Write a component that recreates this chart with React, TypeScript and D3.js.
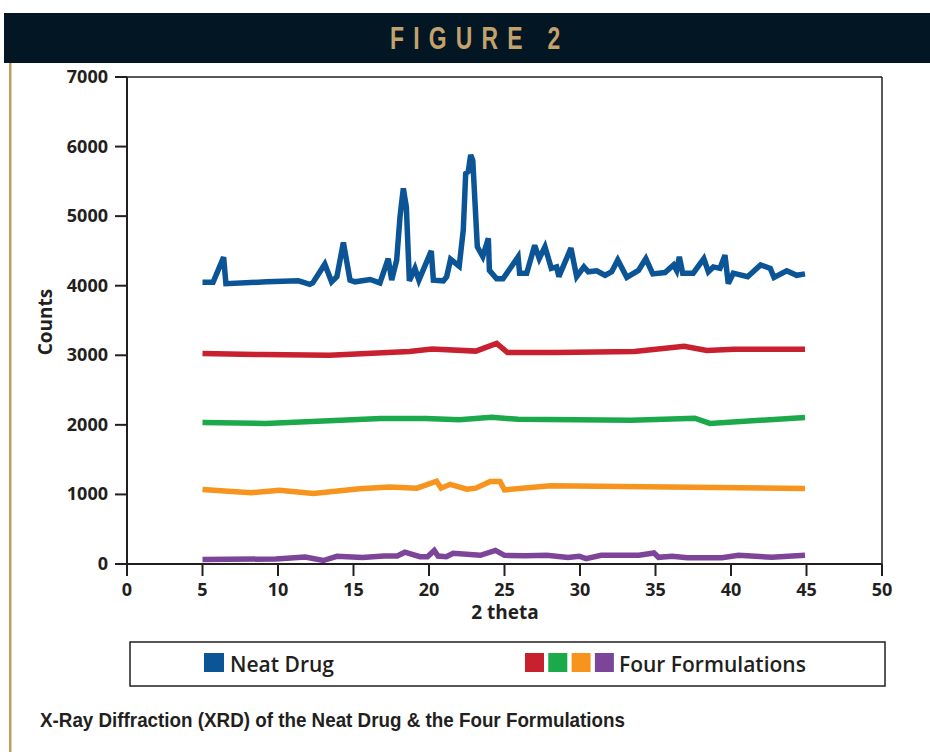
import React from "react";
import * as d3 from "d3";

const xTicks = [0, 5, 10, 15, 20, 25, 30, 35, 40, 45, 50];
const yTicks = [0, 1000, 2000, 3000, 4000, 5000, 6000, 7000];

const neatDrugX = [5, 5.7, 6.4, 6.55, 9.25, 11.35, 11.8, 12.1, 12.3, 13.1, 13.55, 13.9, 14.33, 14.77, 15.1, 16.1, 16.75, 17.3, 17.53, 17.86, 18.08, 18.3, 18.5, 18.7, 19.07, 19.33, 20.15, 20.29, 20.95, 21.17, 21.43, 22.0, 22.27, 22.43, 22.6, 22.76, 22.9, 23.2, 23.56, 23.93, 24.0, 24.48, 24.9, 25.9, 26.0, 26.47, 27.0, 27.3, 27.68, 28.1, 28.45, 28.6, 29.4, 29.78, 30.26, 30.55, 31.1, 31.66, 32.1, 32.5, 33.1, 33.87, 34.36, 34.82, 35.63, 36.2, 36.4, 36.58, 36.8, 37.5, 38.2, 38.5, 38.83, 39.27, 39.6, 39.82, 40.15, 41.1, 41.96, 42.6, 42.85, 43.69, 44.35, 44.9];
const neatDrugY = [4050, 4050, 4410, 4030, 4056, 4070, 4040, 4020, 4040, 4310, 4056, 4130, 4620, 4080, 4056, 4090, 4040, 4390, 4080, 4370, 4990, 5400, 5130, 4070, 4250, 4080, 4500, 4080, 4070, 4130, 4380, 4280, 4800, 5610, 5640, 5880, 5800, 4560, 4420, 4680, 4220, 4100, 4100, 4415, 4180, 4180, 4580, 4390, 4560, 4250, 4270, 4130, 4540, 4130, 4270, 4200, 4215, 4150, 4200, 4370, 4120, 4220, 4390, 4170, 4190, 4300, 4220, 4415, 4180, 4180, 4390, 4200, 4270, 4250, 4440, 4030, 4180, 4130, 4300, 4250, 4120, 4215, 4150, 4170];

const redX = [5, 9.0, 13.4, 18.7, 20.2, 23.1, 24.48, 25.2, 28.4, 33.6, 36.9, 38.4, 40.2, 44.9];
const redY = [3025, 3010, 3000, 3055, 3090, 3060, 3170, 3040, 3040, 3055, 3130, 3070, 3085, 3085];

const greenX = [5, 9.2, 16.8, 19.8, 22.0, 24.15, 25.9, 33.4, 37.6, 38.6, 44.9];
const greenY = [2035, 2020, 2090, 2090, 2075, 2110, 2080, 2065, 2095, 2020, 2105];

const orangeX = [5, 8.2, 10.1, 12.35, 15.4, 17.4, 19.2, 20.5, 20.8, 21.4, 22.5, 23.1, 24.05, 24.7, 25.0, 28.05, 44.9];
const orangeY = [1070, 1025, 1060, 1015, 1080, 1105, 1090, 1190, 1090, 1145, 1075, 1090, 1185, 1185, 1065, 1125, 1085];

const purpleX = [5, 9.85, 11.8, 13.0, 13.9, 15.6, 17.0, 17.9, 18.4, 19.4, 19.9, 20.35, 20.6, 21.15, 21.6, 23.4, 24.4, 25.0, 26.4, 27.8, 29.2, 29.95, 30.4, 31.4, 33.9, 34.9, 35.2, 36.1, 37.1, 39.4, 40.5, 42.7, 44.9];
const purpleY = [65, 72, 100, 50, 110, 95, 115, 115, 170, 105, 105, 195, 115, 105, 155, 125, 195, 125, 118, 125, 95, 112, 78, 125, 125, 158, 96, 112, 90, 90, 125, 96, 125];

const seriesNames = ["Neat Drug", "F1", "F2", "F3", "F4"];
const seriesColors = ["#0b5597", "#c8202f", "#1ba94c", "#f7941e", "#7d459a"];

const legendLabels = ["Neat Drug", "Four Formulations"];
const title = "FIGURE 2";
const caption = "X-Ray Diffraction (XRD) of the Neat Drug & the Four Formulations";
const xLabel = "2 theta";
const yLabel = "Counts";

const axisFont = "'Open Sans', 'DejaVu Sans', sans-serif";
const narrowFont = "'Liberation Sans', Arial, sans-serif";

export default function App() {
  const x = d3.scaleLinear().domain([0, 50]).range([127, 882]);
  const y = d3.scaleLinear().domain([0, 7000]).range([564, 77]);
  const line = d3
    .line<[number, number]>()
    .x((d) => x(d[0]))
    .y((d) => y(d[1]));

  const allX = [neatDrugX, redX, greenX, orangeX, purpleX];
  const allY = [neatDrugY, redY, greenY, orangeY, purpleY];
  const series = seriesNames.map((name, i) => ({
    name,
    color: seriesColors[i],
    pts: allX[i].map((v, j) => [v, allY[i][j]] as [number, number]),
  }));

  const axisColor = "#231f20";

  return (
    <svg
      width={930}
      height={752}
      style={{ position: "absolute", left: 0, top: 0, background: "#fff" }}
    >
      {/* header */}
      <rect x={4} y={13} width={926} height={50} fill="#021624" />
      <g transform="translate(390,49) scale(0.74,1)">
        <text
          x={0}
          y={0}
          fontFamily={narrowFont}
          fontWeight={700}
          fontSize={31}
          textLength={230}
          lengthAdjust="spacing"
          fill="#c4a26c"
        >
          {title}
        </text>
      </g>
      <rect x={9} y={63} width={2.5} height={689} fill="#c49c62" />

      {/* frame */}
      <line x1={x(0)} x2={x(50)} y1={y(7000)} y2={y(7000)} stroke={axisColor} strokeWidth={1.5} />
      <line x1={x(50)} x2={x(50)} y1={y(7000)} y2={y(0)} stroke={axisColor} strokeWidth={1.5} />

      {/* series */}
      {series.map((s) => (
        <path
          key={s.name}
          d={line(s.pts) || ""}
          fill="none"
          stroke={s.color}
          strokeWidth={5.5}
          strokeLinejoin="miter"
          strokeMiterlimit={3}
        />
      ))}

      {/* y axis */}
      <line x1={x(0)} x2={x(0)} y1={y(7000)} y2={y(0)} stroke={axisColor} strokeWidth={2} />
      {yTicks.map((t) => (
        <g key={t}>
          <line x1={x(0) - 12} x2={x(0)} y1={y(t)} y2={y(t)} stroke={axisColor} strokeWidth={2} />
          <text
            x={108}
            y={y(t) + 6}
            textAnchor="end"
            fontFamily={axisFont}
            fontWeight={700}
            fontSize={18}
            fill={axisColor}
          >
            {t}
          </text>
        </g>
      ))}

      {/* x axis */}
      <line x1={x(0) - 12} x2={x(50)} y1={y(0)} y2={y(0)} stroke={axisColor} strokeWidth={2} />
      {xTicks.map((t) => (
        <g key={t}>
          <line x1={x(t)} x2={x(t)} y1={y(0)} y2={y(0) + 12} stroke={axisColor} strokeWidth={2} />
          <text
            x={x(t)}
            y={596}
            textAnchor="middle"
            fontFamily={axisFont}
            fontWeight={700}
            fontSize={18}
            fill={axisColor}
          >
            {t}
          </text>
        </g>
      ))}

      <text
        x={505}
        y={619}
        textAnchor="middle"
        fontFamily={axisFont}
        fontWeight={700}
        fontSize={19}
        fill={axisColor}
      >
        {xLabel}
      </text>
      <text
        transform={`translate(52,322) rotate(-90)`}
        textAnchor="middle"
        fontFamily={axisFont}
        fontWeight={700}
        fontSize={19}
        fill={axisColor}
      >
        {yLabel}
      </text>

      {/* legend */}
      <rect x={130} y={642} width={755} height={44} fill="none" stroke={axisColor} strokeWidth={1.5} />
      <rect x={204} y={653} width={20} height={19} fill={seriesColors[0]} />
      <text x={230} y={672} fontFamily={axisFont} fontWeight={600} fontSize={21} fill={axisColor}>
        {legendLabels[0]}
      </text>
      {seriesColors.slice(1).map((c, i) => (
        <rect key={c} x={525 + i * 23.3} y={653} width={19} height={19} fill={c} />
      ))}
      <text x={619} y={672} fontFamily={axisFont} fontWeight={600} fontSize={21} fill={axisColor}>
        {legendLabels[1]}
      </text>

      {/* caption */}
      <text
        x={40}
        y={727}
        fontFamily={narrowFont}
        fontWeight={700}
        fontSize={21}
        textLength={585}
        lengthAdjust="spacingAndGlyphs"
        fill={axisColor}
      >
        {caption}
      </text>
    </svg>
  );
}
